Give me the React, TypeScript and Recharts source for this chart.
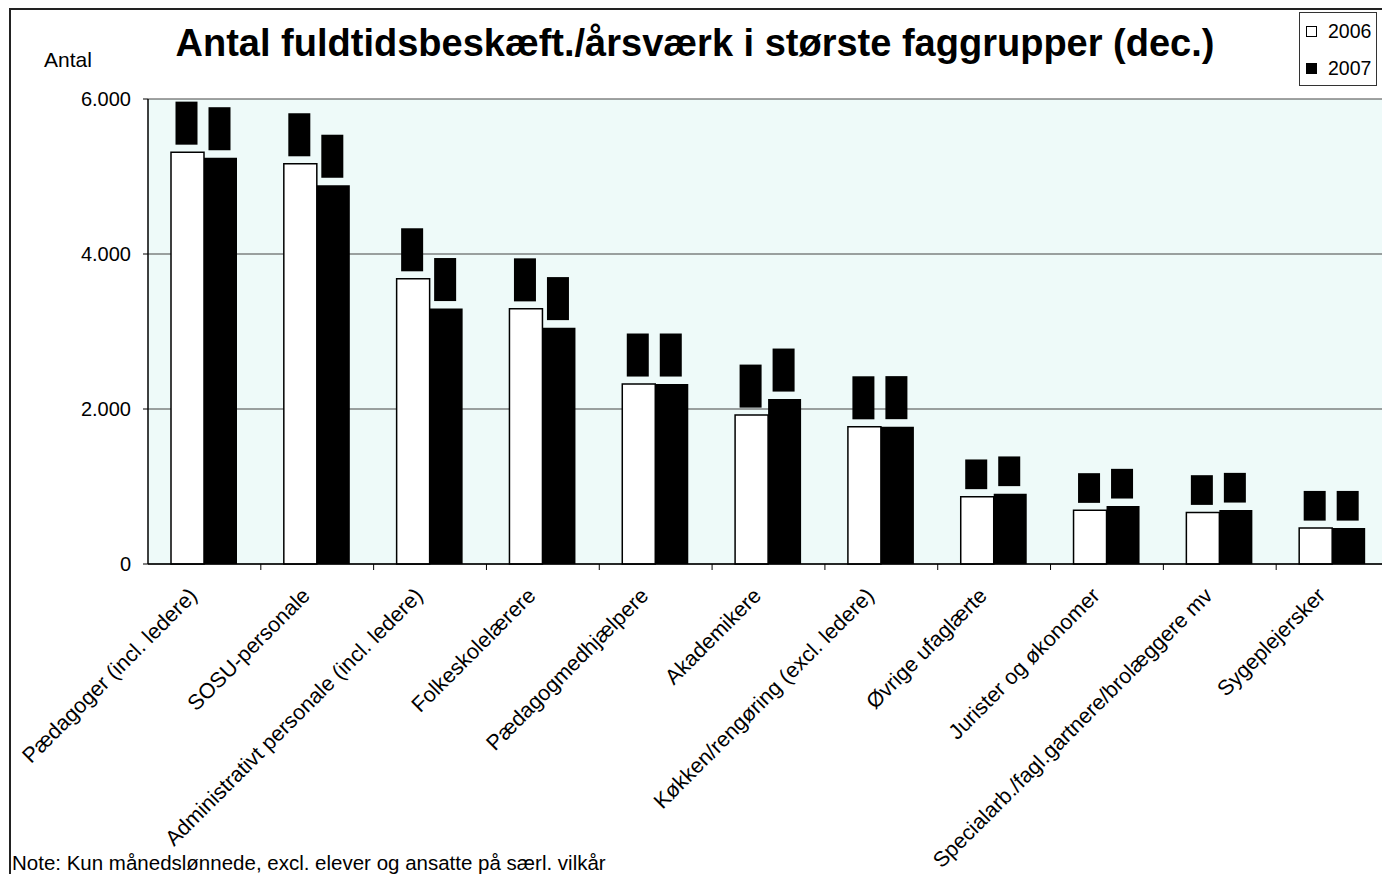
import { BarChart, Bar, XAxis, YAxis, CartesianGrid, LabelList } from 'recharts'

const categories = [
  'Pædagoger (incl. ledere)',
  'SOSU-personale',
  'Administrativt personale (incl. ledere)',
  'Folkeskolelærere',
  'Pædagogmedhjælpere',
  'Akademikere',
  'Køkken/rengøring (excl. ledere)',
  'Øvrige ufaglærte',
  'Jurister og økonomer',
  'Specialarb./fagl.gartnere/brolæggere mv',
  'Sygeplejersker',
]
const values2006 = [5314, 5164, 3680, 3292, 2322, 1921, 1770, 869, 692, 666, 463]
const values2007 = [5242, 4887, 3296, 3050, 2322, 2128, 1772, 908, 748, 696, 463]
const yTicks = [0, 2000, 4000, 6000]
const seriesNames = ['2006', '2007']

const data = categories.map((name, i) => ({
  name,
  y2006: values2006[i],
  y2007: values2007[i],
}))

const FONT = '"Liberation Sans", Arial, sans-serif'
const CHART_W = 1400
const CHART_H = 874
const MARGIN = { top: 99, right: 11, left: 88, bottom: 110 }
const Y_AXIS_W = 60
const BAND = (CHART_W - MARGIN.left - Y_AXIS_W - MARGIN.right) / categories.length

const fmt = (n: number) => String(n).replace(/\B(?=(\d{3})+(?!\d))/g, '.')

// black value box with rotated text, like the original
function ValueBox(props: any) {
  const vb = props.viewBox ?? props
  const x = Number(vb.x)
  const y = Number(vb.y)
  const width = Number(vb.width)
  const text = fmt(Number(props.value))
  const fs = 16
  let tw = 0
  for (const ch of text) tw += ch === '.' ? 0.278 * fs : 0.556 * fs
  const h = tw + 3
  const w = 22
  const cx = x + width / 2 - 1
  const top = y - 7.5 - h
  const cy = top + h / 2
  return (
    <g>
      <rect x={cx - w / 2} y={top} width={w} height={h} fill="#000" />
      <text
        x={cx}
        y={cy}
        transform={`rotate(-90 ${cx} ${cy})`}
        textAnchor="middle"
        dominantBaseline="central"
        fontSize={fs}
        fontFamily={FONT}
        fill="#000"
      >
        {text}
      </text>
    </g>
  )
}

function CategoryTick({ x, y, payload }: any) {
  const tx = x - 6
  const ty = y + 33
  return (
    <g>
      <line x1={x + BAND / 2} y1={y} x2={x + BAND / 2} y2={y + 6} stroke="#000" strokeWidth={1} />
      <text
        x={tx}
        y={ty}
        transform={`rotate(-45 ${tx} ${ty})`}
        textAnchor="end"
        fontSize={21.5}
        fontFamily={FONT}
        fill="#000"
      >
        {payload.value}
      </text>
    </g>
  )
}

function LegendBox() {
  const fills = ['#fff', '#000']
  return (
    <div
      style={{
        position: 'absolute',
        left: 1299,
        top: 12,
        border: '1px solid #333',
        background: '#fff',
        width: 78,
        height: 74,
        boxSizing: 'border-box',
        paddingLeft: 6,
        fontFamily: FONT,
        color: '#000',
      }}
    >
      {seriesNames.map((label, i) => (
        <div key={label} style={{ display: 'flex', alignItems: 'center', height: 37 }}>
          <span
            style={{
              display: 'inline-block',
              width: 9,
              height: 9,
              background: fills[i],
              border: '1px solid #000',
              marginRight: 11,
            }}
          />
          <span style={{ fontSize: 19.5 }}>{label}</span>
        </div>
      ))}
    </div>
  )
}

export default function App() {
  return (
    <div
      style={{
        position: 'absolute',
        left: 0,
        top: 0,
        width: 1382,
        height: 874,
        overflow: 'hidden',
        background: '#fff',
        fontFamily: FONT,
      }}
    >
      <div
        style={{
          position: 'absolute',
          left: 9,
          top: 8,
          width: 1500,
          height: 1000,
          border: '2px solid #222',
        }}
      />
      <div
        style={{
          position: 'absolute',
          left: 0,
          width: 1390,
          top: 20.5,
          textAlign: 'center',
          fontSize: 38,
          fontWeight: 'bold',
          lineHeight: '44px',
          color: '#000',
        }}
      >
        Antal fuldtidsbeskæft./årsværk i største faggrupper (dec.)
      </div>
      <div style={{ position: 'absolute', left: 44, top: 48, fontSize: 21, lineHeight: '24px' }}>Antal</div>
      <div style={{ position: 'absolute', left: 12, top: 851, fontSize: 20.5, lineHeight: '24px', whiteSpace: 'nowrap' }}>
        Note: Kun månedslønnede, excl. elever og ansatte på særl. vilkår
      </div>
      <div style={{ position: 'absolute', left: 0, top: 0 }}>
        <BarChart width={CHART_W} height={CHART_H} data={data} margin={MARGIN} barGap={0} barSize={33}>
          <CartesianGrid vertical={false} stroke="#444" strokeWidth={1} fill="#eefaf9" />
          <XAxis
            dataKey="name"
            interval={0}
            height={200}
            tickSize={0}
            tickMargin={0}
            tickLine={false}
            axisLine={{ stroke: '#000', strokeWidth: 1.5 }}
            tick={<CategoryTick />}
          />
          <YAxis
            width={Y_AXIS_W}
            domain={[0, 6000]}
            ticks={yTicks}
            interval={0}
            tickFormatter={fmt}
            tickSize={5}
            tickMargin={12}
            axisLine={{ stroke: '#000', strokeWidth: 1.5 }}
            tickLine={{ stroke: '#000' }}
            tick={{ fill: '#000', fontSize: 20, fontFamily: FONT }}
          />
          <Bar dataKey="y2006" name="2006" fill="#fff" stroke="#000" strokeWidth={1.5} isAnimationActive={false}>
            <LabelList dataKey="y2006" content={(p: any) => <ValueBox {...p} />} />
          </Bar>
          <Bar dataKey="y2007" name="2007" fill="#000" isAnimationActive={false}>
            <LabelList dataKey="y2007" content={(p: any) => <ValueBox {...p} />} />
          </Bar>
        </BarChart>
      </div>
      <LegendBox />
    </div>
  )
}
